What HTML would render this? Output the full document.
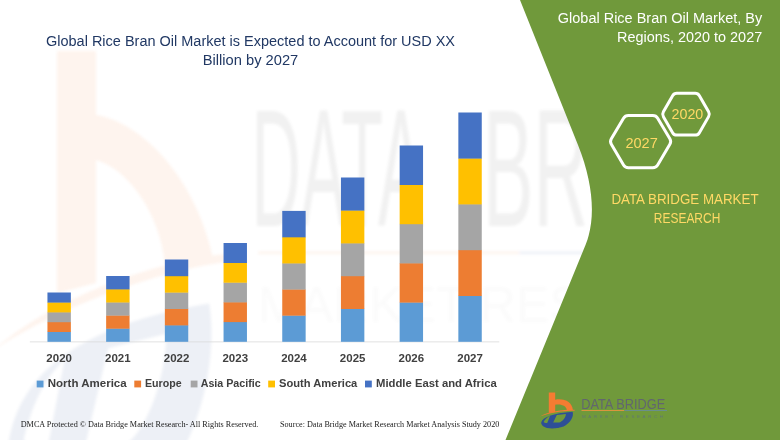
<!DOCTYPE html><html><head><meta charset="utf-8"><title>Global Rice Bran Oil Market</title>
<style>html,body{margin:0;padding:0;background:#fff;}body{width:780px;height:440px;overflow:hidden;font-family:"Liberation Sans",sans-serif;}svg{display:block;}text{font-family:"Liberation Sans",sans-serif;}.serif{font-family:"Liberation Serif",serif;}</style></head><body>
<svg width="780" height="440" viewBox="0 0 780 440">
<defs>
<g id="icon">
<path d="M8.2,0 H14.6 V7.2 C24,5.6 31.5,9.5 32.3,17.6 L26.3,18.2 C26,13.5 21.5,11.4 14.6,12.2 V19.4 L8.2,20.4 Z" fill="#F47B30"/>
<path d="M-0.6,24 C8,19 22,17.2 34,17.3 L34,18.3 C22,18.4 9,20.3 -0.6,24 Z" fill="#F47B30"/>
<path id="blueD" d="M0.6,30 C2,24.5 12,20.8 32,19.2 C33.5,24 30,30 23,34 C16,36.5 6,36.5 3,34 C1,32.5 0.4,31 0.6,30 Z M16.2,22.6 L25.3,21.5 C25,26 21,29.6 18.6,29.9 L12.6,30 Z M3,29.5 C4.5,26.5 6.5,24.8 9.4,23.4 L6.6,30.5 C5,30.6 4,30.4 3,29.5 Z" fill="#2D5096" fill-rule="evenodd"/>
</g>
<filter id="bl" x="-5%" y="-5%" width="110%" height="110%"><feGaussianBlur stdDeviation="1.6"/></filter>
<filter id="soft" filterUnits="userSpaceOnUse" x="-20" y="-20" width="820" height="480"><feGaussianBlur stdDeviation="0.45"/></filter>
</defs>
<rect x="-20" y="-20" width="820" height="480" fill="#fff"/>
<g filter="url(#soft)">
<rect x="-20" y="-20" width="820" height="480" fill="#fff"/>
<g opacity="0.085" filter="url(#bl)">
<path d="M57,51 H96 V115 C140,122 195,175 213,258 L165,264 C160,215 130,170 96,160 V283 L57,293 Z" fill="#F47B30"/>
<path d="M-6,350 C50,300 150,262 226,254 L226,262 C150,272 50,312 -6,350 Z" fill="#F47B30"/>
<g transform="translate(4.5,50) scale(6.4,13.2)"><use href="#blueD"/></g>
<text x="251.5" y="225.5" font-size="167" textLength="172" lengthAdjust="spacingAndGlyphs" fill="#5a5a5a">DATA</text>
<text x="483" y="225.5" font-size="167" textLength="290" lengthAdjust="spacingAndGlyphs" fill="#5a5a5a">BRIDGE</text>
<rect x="258" y="251.5" width="261" height="2.6" fill="#F07C2E"/><rect x="519" y="251.5" width="250" height="2.6" fill="#2C4F9E"/>
<text x="258" y="322" font-size="50" textLength="500" lengthAdjust="spacing" fill="#666" opacity="0.32">MARKET RESEARCH</text>
</g>
<path d="M512,-20 L520,0 L578,145 C594,185 595.75,220 585.5,245 L505.5,440 L497.3,460 L800,460 L800,-20 Z" fill="#67932F" fill-opacity="0.94"/>
<rect x="29.8" y="341.5" width="469.5" height="0.8" fill="#D9D9D9"/>
<rect x="47.45" y="331.70" width="23.4" height="10.10" fill="#5B9BD5"/>
<rect x="47.45" y="321.90" width="23.4" height="10.10" fill="#ED7D31"/>
<rect x="47.45" y="312.10" width="23.4" height="10.10" fill="#A5A5A5"/>
<rect x="47.45" y="302.30" width="23.4" height="10.10" fill="#FFC000"/>
<rect x="47.45" y="292.50" width="23.4" height="10.10" fill="#4472C4"/>
<text x="59.15" y="362.4" font-size="11.4" font-weight="bold" fill="#404040" text-anchor="middle" textLength="25.6" lengthAdjust="spacingAndGlyphs">2020</text>
<rect x="106.15" y="328.40" width="23.4" height="13.40" fill="#5B9BD5"/>
<rect x="106.15" y="315.30" width="23.4" height="13.40" fill="#ED7D31"/>
<rect x="106.15" y="302.20" width="23.4" height="13.40" fill="#A5A5A5"/>
<rect x="106.15" y="289.10" width="23.4" height="13.40" fill="#FFC000"/>
<rect x="106.15" y="276.00" width="23.4" height="13.40" fill="#4472C4"/>
<text x="117.85" y="362.4" font-size="11.4" font-weight="bold" fill="#404040" text-anchor="middle" textLength="25.6" lengthAdjust="spacingAndGlyphs">2021</text>
<rect x="164.85" y="325.10" width="23.4" height="16.70" fill="#5B9BD5"/>
<rect x="164.85" y="308.70" width="23.4" height="16.70" fill="#ED7D31"/>
<rect x="164.85" y="292.30" width="23.4" height="16.70" fill="#A5A5A5"/>
<rect x="164.85" y="275.90" width="23.4" height="16.70" fill="#FFC000"/>
<rect x="164.85" y="259.50" width="23.4" height="16.70" fill="#4472C4"/>
<text x="176.55" y="362.4" font-size="11.4" font-weight="bold" fill="#404040" text-anchor="middle" textLength="25.6" lengthAdjust="spacingAndGlyphs">2022</text>
<rect x="223.55" y="321.80" width="23.4" height="20.00" fill="#5B9BD5"/>
<rect x="223.55" y="302.10" width="23.4" height="20.00" fill="#ED7D31"/>
<rect x="223.55" y="282.40" width="23.4" height="20.00" fill="#A5A5A5"/>
<rect x="223.55" y="262.70" width="23.4" height="20.00" fill="#FFC000"/>
<rect x="223.55" y="243.00" width="23.4" height="20.00" fill="#4472C4"/>
<text x="235.25" y="362.4" font-size="11.4" font-weight="bold" fill="#404040" text-anchor="middle" textLength="25.6" lengthAdjust="spacingAndGlyphs">2023</text>
<rect x="282.25" y="315.38" width="23.4" height="26.42" fill="#5B9BD5"/>
<rect x="282.25" y="289.26" width="23.4" height="26.42" fill="#ED7D31"/>
<rect x="282.25" y="263.14" width="23.4" height="26.42" fill="#A5A5A5"/>
<rect x="282.25" y="237.02" width="23.4" height="26.42" fill="#FFC000"/>
<rect x="282.25" y="210.90" width="23.4" height="26.42" fill="#4472C4"/>
<text x="293.95" y="362.4" font-size="11.4" font-weight="bold" fill="#404040" text-anchor="middle" textLength="25.6" lengthAdjust="spacingAndGlyphs">2024</text>
<rect x="340.95" y="308.70" width="23.4" height="33.10" fill="#5B9BD5"/>
<rect x="340.95" y="275.90" width="23.4" height="33.10" fill="#ED7D31"/>
<rect x="340.95" y="243.10" width="23.4" height="33.10" fill="#A5A5A5"/>
<rect x="340.95" y="210.30" width="23.4" height="33.10" fill="#FFC000"/>
<rect x="340.95" y="177.50" width="23.4" height="33.10" fill="#4472C4"/>
<text x="352.65" y="362.4" font-size="11.4" font-weight="bold" fill="#404040" text-anchor="middle" textLength="25.6" lengthAdjust="spacingAndGlyphs">2025</text>
<rect x="399.65" y="302.30" width="23.4" height="39.50" fill="#5B9BD5"/>
<rect x="399.65" y="263.10" width="23.4" height="39.50" fill="#ED7D31"/>
<rect x="399.65" y="223.90" width="23.4" height="39.50" fill="#A5A5A5"/>
<rect x="399.65" y="184.70" width="23.4" height="39.50" fill="#FFC000"/>
<rect x="399.65" y="145.50" width="23.4" height="39.50" fill="#4472C4"/>
<text x="411.35" y="362.4" font-size="11.4" font-weight="bold" fill="#404040" text-anchor="middle" textLength="25.6" lengthAdjust="spacingAndGlyphs">2026</text>
<rect x="458.35" y="295.70" width="23.4" height="46.10" fill="#5B9BD5"/>
<rect x="458.35" y="249.90" width="23.4" height="46.10" fill="#ED7D31"/>
<rect x="458.35" y="204.10" width="23.4" height="46.10" fill="#A5A5A5"/>
<rect x="458.35" y="158.30" width="23.4" height="46.10" fill="#FFC000"/>
<rect x="458.35" y="112.50" width="23.4" height="46.10" fill="#4472C4"/>
<text x="470.05" y="362.4" font-size="11.4" font-weight="bold" fill="#404040" text-anchor="middle" textLength="25.6" lengthAdjust="spacingAndGlyphs">2027</text>
<rect x="36.7" y="380.6" width="6.8" height="6.8" fill="#5B9BD5"/>
<text x="47.7" y="387.4" font-size="11" font-weight="bold" fill="#404040" textLength="79.0" lengthAdjust="spacingAndGlyphs">North America</text>
<rect x="134.3" y="380.6" width="6.8" height="6.8" fill="#ED7D31"/>
<text x="145" y="387.4" font-size="11" font-weight="bold" fill="#404040" textLength="36.7" lengthAdjust="spacingAndGlyphs">Europe</text>
<rect x="190.7" y="380.6" width="6.8" height="6.8" fill="#A5A5A5"/>
<text x="200.7" y="387.4" font-size="11" font-weight="bold" fill="#404040" textLength="60.0" lengthAdjust="spacingAndGlyphs">Asia Pacific</text>
<rect x="268.2" y="380.6" width="6.8" height="6.8" fill="#FFC000"/>
<text x="279" y="387.4" font-size="11" font-weight="bold" fill="#404040" textLength="78.3" lengthAdjust="spacingAndGlyphs">South America</text>
<rect x="365" y="380.6" width="6.8" height="6.8" fill="#4472C4"/>
<text x="376" y="387.4" font-size="11" font-weight="bold" fill="#404040" textLength="120.7" lengthAdjust="spacingAndGlyphs">Middle East and Africa</text>
<text x="46" y="46" font-size="15.4" fill="#203864" textLength="409.0" lengthAdjust="spacingAndGlyphs" >Global Rice Bran Oil Market is Expected to Account for USD XX</text>
<text x="202.7" y="65" font-size="15.4" fill="#203864" textLength="95.6" lengthAdjust="spacingAndGlyphs" >Billion by 2027</text>
<text x="557.8" y="23.1" font-size="15.2" fill="#fff" textLength="204.4" lengthAdjust="spacingAndGlyphs" >Global Rice Bran Oil Market, By</text>
<text x="617" y="41.5" font-size="15.2" fill="#fff" textLength="145.2" lengthAdjust="spacingAndGlyphs" >Regions, 2020 to 2027</text>
<text x="611.4" y="204.4" font-size="15.4" fill="#FFD966" textLength="147.2" lengthAdjust="spacingAndGlyphs" >DATA BRIDGE MARKET</text>
<text x="653.8" y="223.4" font-size="15.4" fill="#FFD966" textLength="66.5" lengthAdjust="spacingAndGlyphs" >RESEARCH</text>
<path d="M611.33,144.36 Q609.70,141.60 611.33,138.84 L623.52,118.16 Q625.15,115.40 628.35,115.40 L652.85,115.40 Q656.05,115.40 657.68,118.16 L669.87,138.84 Q671.50,141.60 669.87,144.36 L657.68,165.04 Q656.05,167.80 652.85,167.80 L628.35,167.80 Q625.15,167.80 623.52,165.04 Z" fill="none" stroke="#fff" stroke-width="3.0" stroke-linejoin="round"/>
<path d="M663.39,116.63 Q662.00,114.20 663.39,111.77 L672.61,95.73 Q674.00,93.30 676.80,93.30 L695.20,93.30 Q698.00,93.30 699.39,95.73 L708.61,111.77 Q710.00,114.20 708.61,116.63 L699.39,132.67 Q698.00,135.10 695.20,135.10 L676.80,135.10 Q674.00,135.10 672.61,132.67 Z" fill="none" stroke="#fff" stroke-width="3.0" stroke-linejoin="round"/>
<text x="625.4" y="147.6" font-size="15.4" fill="#FFD966" textLength="32.4" lengthAdjust="spacingAndGlyphs" >2027</text>
<text x="671.5" y="119.4" font-size="15.4" fill="#FFD966" textLength="31.8" lengthAdjust="spacingAndGlyphs" >2020</text>
<text x="20.7" y="427.3" font-size="8.4" fill="#1a1a1a" textLength="237.6" lengthAdjust="spacingAndGlyphs" class="serif">DMCA Protected © Data Bridge Market Research- All Rights Reserved.</text>
<text x="280" y="427.3" font-size="8.4" fill="#1a1a1a" textLength="219.3" lengthAdjust="spacingAndGlyphs" class="serif">Source: Data Bridge Market Research Market Analysis Study 2020</text>
<g transform="translate(540.6,392.5)"><use href="#icon"/></g>
<text x="581.2" y="409" font-size="15.2" fill="#62666E" textLength="84.0" lengthAdjust="spacingAndGlyphs" >DATA BRIDGE</text>
<rect x="581.5" y="410" width="42.9" height="1" fill="#D9953C"/><rect x="624.4" y="410" width="42.6" height="1" fill="#6A8E8C"/>
<text x="582" y="417.6" font-size="4.4" fill="#5E6E80" fill-opacity="0.8" textLength="81" lengthAdjust="spacing">MARKET RESEARCH</text>
</g>
</svg></body></html>
